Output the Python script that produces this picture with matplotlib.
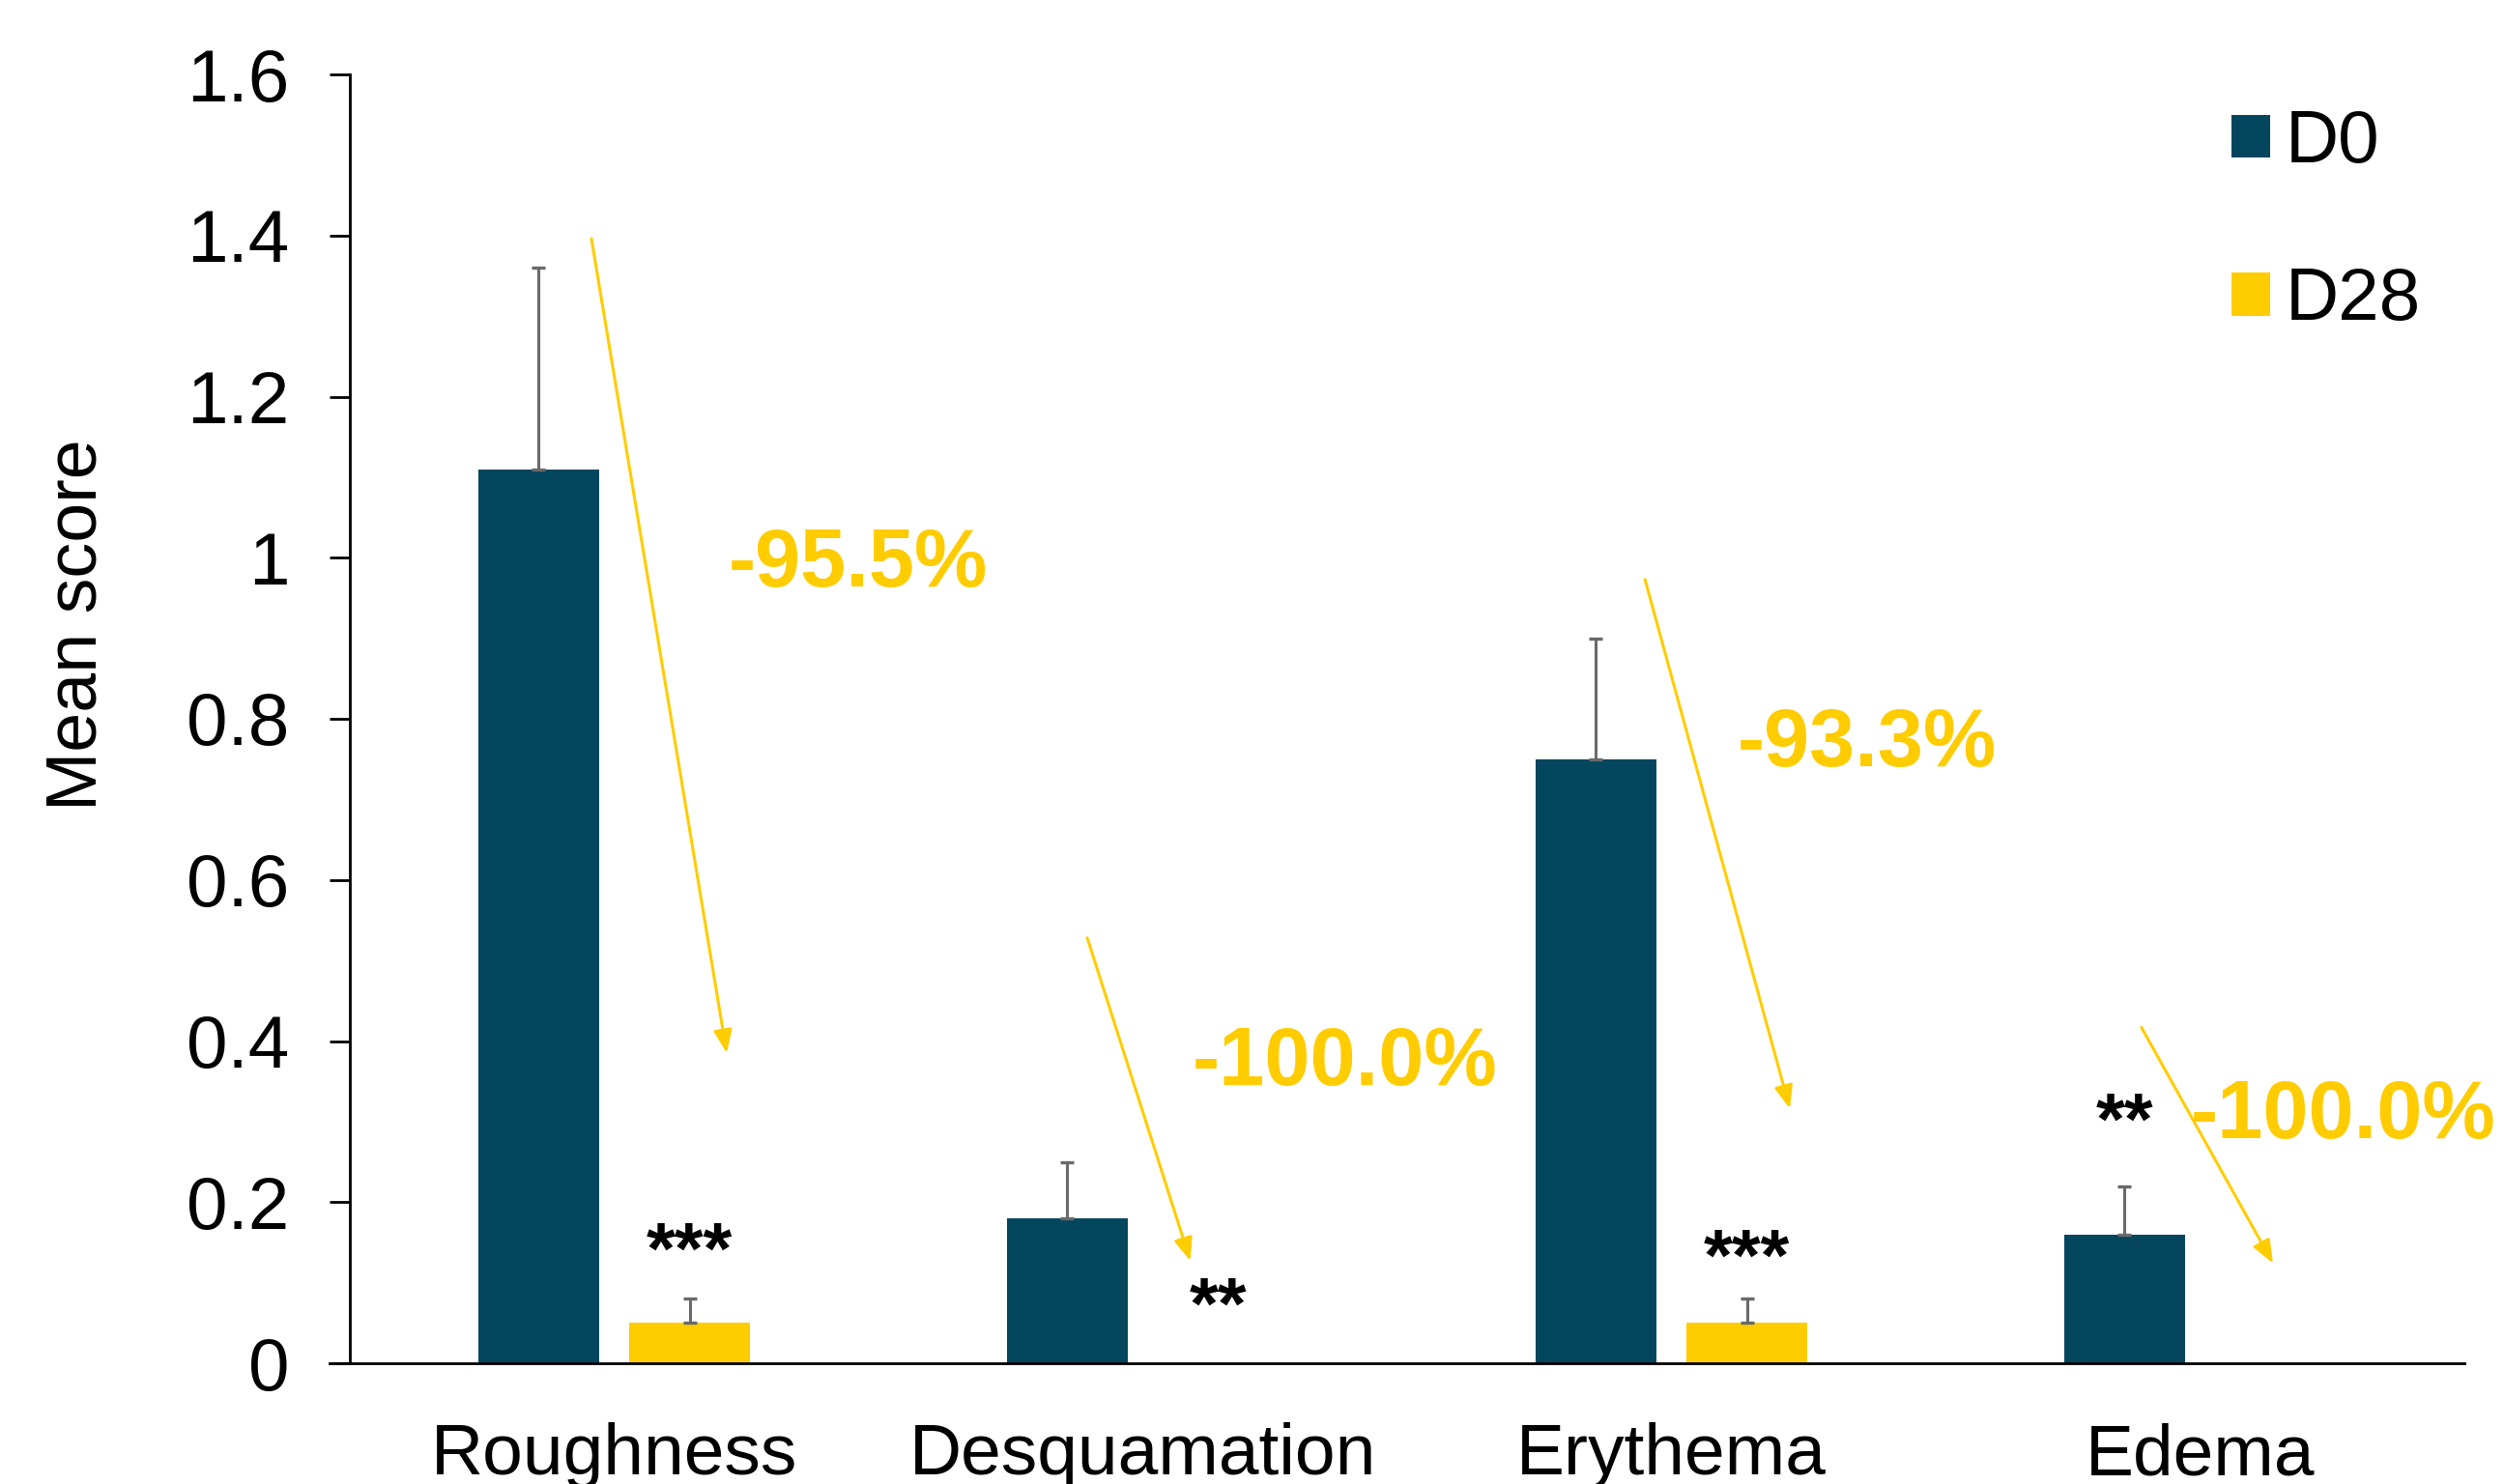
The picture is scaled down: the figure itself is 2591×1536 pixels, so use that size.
import numpy as np
import matplotlib
matplotlib.use("Agg")
import matplotlib.pyplot as plt
from matplotlib.ticker import FuncFormatter

plt.rcParams['font.family'] = ['Liberation Sans', 'DejaVu Sans']

categories = ["Roughness", "Desquamation", "Erythema", "Edema"]
series_names = ["D0", "D28"]
d0_values = [1.11, 0.18, 0.75, 0.16]
d0_errors = [0.25, 0.07, 0.15, 0.06]
d28_values = [0.05, 0.0, 0.05, 0.0]
d28_errors = [0.03, 0.0, 0.03, 0.0]
pct_labels = ["-95.5%", "-100.0%", "-93.3%", "-100.0%"]
stars = ["***", "**", "***", "**"]
yticks = [0, 0.2, 0.4, 0.6, 0.8, 1.0, 1.2, 1.4, 1.6]

# annotation placement (data coords)
arrow_start = [(-0.043, 1.396), (0.895, 0.528), (1.950, 0.973), (2.889, 0.417)]
arrow_end = [(0.213, 0.385), (1.090, 0.127), (2.224, 0.316), (3.138, 0.124)]
pct_pos = [(0.462, 0.9645), (1.383, 0.345), (2.370, 0.741), (3.271, 0.2795)]
star_pos = [(0.1426, 0.112), (1.1426, 0.043), (2.1426, 0.104), (2.857, 0.273)]

C_D0 = "#03465E"
C_D28 = "#FFCC00"
C_ERR = "#6A6A6A"

FS = 55

fig = plt.figure(figsize=(25.91, 15.36), dpi=100)
ax = fig.add_axes([362/2591, 1-1411/1536, (2550-362)/2591, (1411-77)/1536])

x = np.arange(len(categories))
w = 0.2285
off = 0.1426
ax.bar(x - off, d0_values, width=w, color=C_D0, label=series_names[0], zorder=2)
ax.bar(x + off, d28_values, width=w, color=C_D28, label=series_names[1], zorder=2)

for xs, vals, errs in [(x - off, d0_values, d0_errors), (x + off, d28_values, d28_errors)]:
    vals = np.asarray(vals); errs = np.asarray(errs)
    m = errs > 0
    ax.errorbar(xs[m], vals[m], yerr=[np.zeros(m.sum()), errs[m]], fmt='none',
                ecolor=C_ERR, elinewidth=2.2, capsize=4.7, capthick=2.4, zorder=3)

for (s, e) in zip(arrow_start, arrow_end):
    ax.annotate('', xy=e, xytext=s,
                arrowprops=dict(arrowstyle='-|>,head_length=0.6,head_width=0.24',
                                color=C_D28, lw=2.2, shrinkA=0, shrinkB=0,
                                mutation_scale=24), zorder=4)

for (px, py), t in zip(pct_pos, pct_labels):
    ax.text(px, py, t, ha='center', va='baseline', fontsize=61,
            fontweight='bold', color=C_D28, zorder=5)

for (px, py), t in zip(star_pos, stars):
    ax.text(px, py, t, ha='center', va='baseline', fontsize=FS,
            fontweight='bold', color='black', zorder=5)

ax.set_xlim(-0.5, 3.5)
ax.set_ylim(0, 1.6)
ax.set_yticks(yticks)
ax.yaxis.set_major_formatter(FuncFormatter(lambda v, p: f"{v:g}"))
ax.set_xticks(x)
ax.set_xticklabels(categories)
ax.tick_params(axis='x', length=0, pad=44, labelsize=54)
ax.tick_params(axis='y', length=15, width=2, direction='out', pad=30, labelsize=FS)

for sp in ['top', 'right']:
    ax.spines[sp].set_visible(False)
for sp in ['left', 'bottom']:
    ax.spines[sp].set_linewidth(2)
    ax.spines[sp].set_color('black')
ax.spines['bottom'].set_bounds(-0.5 - 21/547, 3.5)

ax.set_ylabel("Mean score", fontsize=53)
ax.yaxis.set_label_coords(-0.113, 0.573)

leg = ax.legend(loc='upper left', bbox_to_anchor=(2309/2591, 1-113/1536),
                bbox_transform=fig.transFigure, frameon=False, fontsize=FS,
                handlelength=0.52, handleheight=0.52, handletextpad=0.21,
                labelspacing=1.21, borderpad=0, borderaxespad=0)

fig.savefig("out.png", dpi=100)
